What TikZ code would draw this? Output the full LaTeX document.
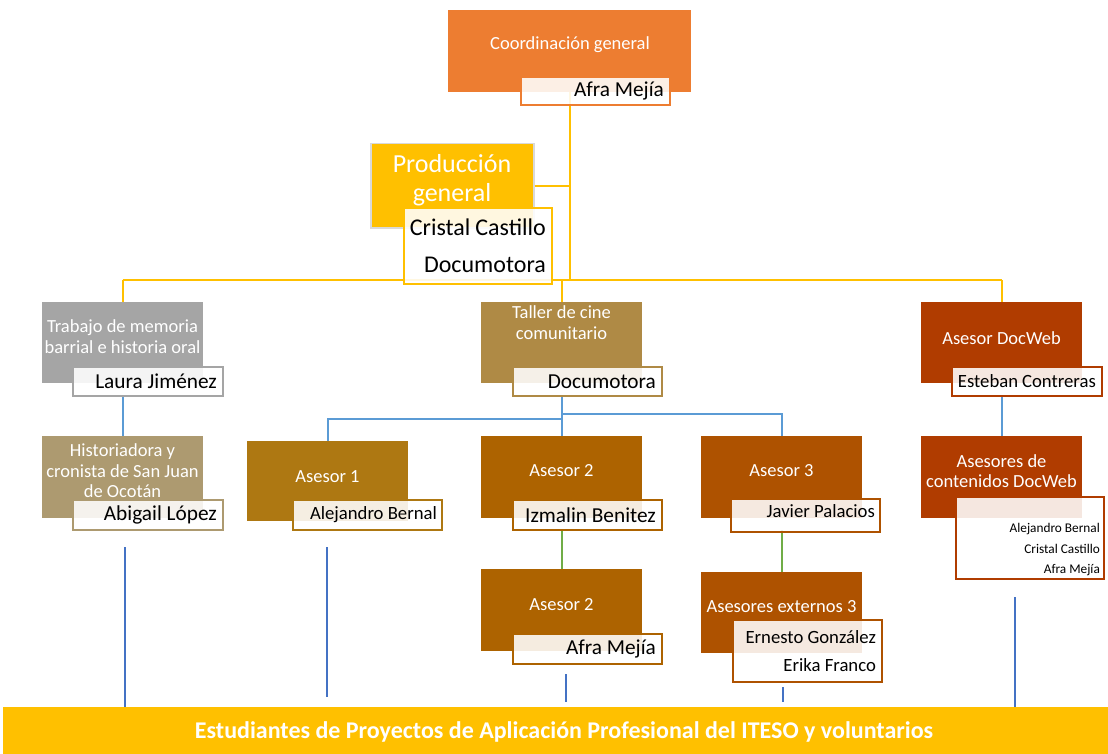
\documentclass[tikz,border=0pt]{standalone}
\usepackage{fontspec}
\setmainfont{Carlito}
\begin{document}
\begin{tikzpicture}[x=1pt,y=-1pt,
  box/.style={draw=none, fill=#1, anchor=north west, inner sep=0pt},
  sub/.style={draw=#1, line width=1.8pt, fill=white, fill opacity=0.88, text opacity=1,
    anchor=north west, inner xsep=6pt, inner ysep=0pt, align=flush right, text=black},
  ttl/.style={text=white, align=center, inner sep=0pt, font=\fontsize{18.5}{21}\selectfont},
  yl/.style={draw=cYel, line width=2.4pt},
  bl/.style={draw=cBlue, line width=2.4pt},
  gr/.style={draw=cGreen, line width=2.4pt},
  dbl/.style={draw=cDBlue, line width=2.2pt},
  big/.style={font=\fontsize{21.3}{24}\selectfont},
  mid/.style={font=\fontsize{18.7}{28}\selectfont},
]
\definecolor{cOr}{HTML}{ED7D31}
\definecolor{cYel}{HTML}{FFC000}
\definecolor{cGray}{HTML}{A5A5A5}
\definecolor{cTan}{HTML}{AD9A70}
\definecolor{cKhaki}{HTML}{AF8A45}
\definecolor{cGold}{HTML}{AE7812}
\definecolor{cBrown}{HTML}{AD6300}
\definecolor{cRust}{HTML}{AE5200}
\definecolor{cRed}{HTML}{B03C00}
\definecolor{cBlue}{HTML}{5B9BD5}
\definecolor{cDBlue}{HTML}{4472C4}
\definecolor{cGreen}{HTML}{70AD47}
\definecolor{cLG}{HTML}{D9D9D9}
\useasboundingbox (0,0) rectangle (1108,754);

% ---------- boxes ----------
\node[box=cOr, minimum width=243, minimum height=82] (coord) at (448,10) {};
\node[box=cYel, draw=cLG, line width=1.5pt, minimum width=163, minimum height=84] (prod) at (370,143) {};
\node[box=cGray, minimum width=161, minimum height=81] (trab) at (42,302) {};
\node[box=cTan, minimum width=161, minimum height=82] (hist) at (42,436) {};
\node[box=cKhaki, minimum width=161, minimum height=81] (taller) at (481,302) {};
\node[box=cGold, minimum width=161, minimum height=80] (as1) at (247,441) {};
\node[box=cBrown, minimum width=161, minimum height=82] (as2) at (481,436) {};
\node[box=cRust, minimum width=161, minimum height=82] (as3) at (701,436) {};
\node[box=cBrown, minimum width=161, minimum height=82] (as2b) at (481,569) {};
\node[box=cRust, minimum width=161, minimum height=81] (ext3) at (701,572) {};
\node[box=cRed, minimum width=161, minimum height=81] (docweb) at (921,302) {};
\node[box=cRed, minimum width=161, minimum height=82] (cont) at (921,436) {};
\node[box=cYel, minimum width=1105, minimum height=47] (bar) at (3,707) {};

% ---------- connectors ----------
\coordinate (j1) at (570,280);
\draw[yl] (coord.south -| j1) -- (j1);
\draw[yl] (prod.east) -- (prod.east -| j1);
\draw[yl] (trab.north |- j1) -- (docweb.north |- j1);
\draw[yl] (trab.north |- j1) -- (trab.north);
\draw[yl] (taller.north |- j1) -- (taller.north);
\draw[yl] (docweb.north |- j1) -- (docweb.north);

\draw[bl] (hist.north |- 0,395) -- (hist.north);
\coordinate (tl) at (561,419);
\coordinate (tr) at (561,414);
\draw[bl] (as2.north |- 0,395) -- (as2.north);
\draw[bl] (as1.north) -- (as1.north |- tl) -- (tl);
\draw[bl] (tr) -- (as3.north |- tr) -- (as3.north);
\draw[bl] (cont.north |- 0,395) -- (cont.north);

\draw[gr] (as2b.north |- 0,530) -- (as2b.north);
\draw[gr] (ext3.north |- 0,530) -- (ext3.north);

\coordinate (b1) at (125,547);
\coordinate (b2) at (327,547);
\coordinate (b3) at (566,674);
\coordinate (b4) at (783,687);
\coordinate (b5) at (1015,597);
\draw[dbl] (b1) -- (b1 |- bar.north);
\draw[dbl] (b2) -- (b2 |- 0,697);
\draw[dbl] (b3) -- (b3 |- 0,702);
\draw[dbl] (b4) -- (b4 |- 0,702);
\draw[dbl] (b5) -- (b5 |- bar.north);

% ---------- titles ----------
\node[ttl] (tcoord) at (570,45) {Coordinación general};
\node[ttl, font=\fontsize{26}{29}\selectfont] (tprod) at (452,180) {Producción\\general};
\node[ttl] (ttrab) at (122.5,337) {Trabajo de memoria\\barrial e historia oral};
\node[ttl, font=\fontsize{18.5}{20.5}\selectfont] (thist) at (122.5,471) {Historiadora y\\cronista de San Juan\\de Ocotán};
\node[ttl] (ttaller) at (561.5,323) {Taller de cine\\comunitario};
\node[ttl] (tas1) at (327.5,477) {Asesor 1};
\node[ttl] (tas2) at (561.5,471) {Asesor 2};
\node[ttl] (tas3) at (781.5,471) {Asesor 3};
\node[ttl] (tas2b) at (561.5,605) {Asesor 2};
\node[ttl] (text3) at (781.5,607) {Asesores externos 3};
\node[ttl] (tdocweb) at (1001.5,338) {Asesor DocWeb};
\node[ttl, font=\fontsize{18.5}{20}\selectfont] (tcont) at (1001.5,471) {Asesores de\\contenidos DocWeb};
\node[text=white, inner sep=0pt, font=\fontsize{24}{27}\selectfont\bfseries] (tbar) at (564,732)
  {Estudiantes de Proyectos de Aplicación Profesional del ITESO y voluntarios};

% ---------- name boxes ----------
\node[sub=cOr, big, minimum width=149, minimum height=28, text width=137] (afra1) at (520,76) {Afra Mejía};
\node[sub=cYel, font=\fontsize{24}{37}\selectfont, minimum width=148, minimum height=76, text width=136] (prodsub) at (403,207) {Cristal Castillo\\Documotora};
\node[sub=cGray, big, minimum width=150, minimum height=29, text width=138] (laura) at (72,366) {Laura Jiménez};
\node[sub=cTan, big, minimum width=150, minimum height=30, text width=138] (abigail) at (72,499) {Abigail López};
\node[sub=cKhaki, big, minimum width=149, minimum height=29, text width=137] (docu) at (512,366) {Documotora};
\node[sub=cGold, mid, minimum width=149, minimum height=30, text width=139, inner xsep=5pt] (alej) at (292,499) {Alejandro Bernal};
\node[sub=cBrown, big, minimum width=149, minimum height=30, text width=137] (izm) at (512,499) {Izmalin Benitez};
\node[sub=cRust, mid, minimum width=149, minimum height=33, text width=139, inner xsep=5pt, text depth=9pt] (javier) at (730,498) {Javier Palacios};
\node[sub=cBrown, big, minimum width=149, minimum height=30, text width=137] (afra2) at (512,633) {Afra Mejía};
\node[sub=cRust, mid, minimum width=149, minimum height=62, text width=137] (ernesto) at (732,619) {Ernesto González\\Erika Franco};
\node[sub=cRed, mid, minimum width=150, minimum height=29, text width=138] (esteban) at (951,366) {Esteban Contreras};
\node[sub=cRed, font=\fontsize{13.3}{20.5}\selectfont, minimum width=148, minimum height=82, text width=140, inner xsep=4pt, text depth=20pt] (contsub) at (955,496) {Alejandro Bernal\\Cristal Castillo\\Afra Mejía};
\end{tikzpicture}
\end{document}
